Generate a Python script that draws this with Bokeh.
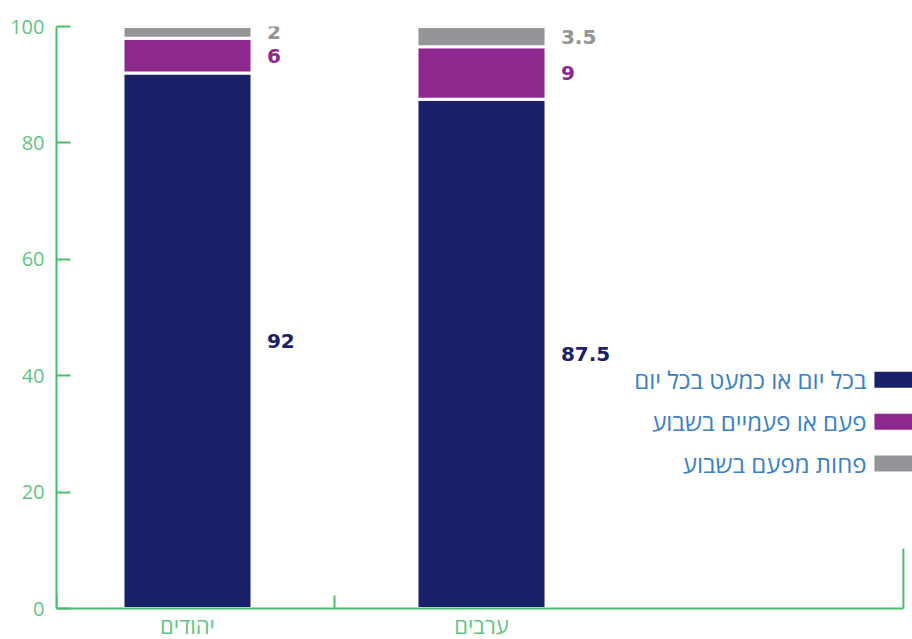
from bokeh.plotting import figure
from bokeh.models import FixedTicker, Range1d
from bokeh.core.properties import value
from bokeh.embed import file_html
from bokeh.resources import INLINE

# ---- data ----
groups = ["יהודים", "ערבים"]
series_names = ["בכל יום או כמעט בכל יום", "פעם או פעמיים בשבוע", "פחות מפעם בשבוע"]
daily = [92, 87.5]
weekly = [6, 9]
rarely = [2, 3.5]
daily_labels = ["92", "87.5"]
weekly_labels = ["6", "9"]
rarely_labels = ["2", "3.5"]
y_ticks = [0, 20, 40, 60, 80, 100]

# ---- styles ----
colors = ["#1b2169", "#8e278e", "#939598"]
axis_green = "#4cbb6c"
label_green = "#62c483"
legend_blue = "#3a80c4"

xs = list(range(len(groups)))
x_left, x_right = -0.4456, 2.466
x_end = 2.435
y_bottom = -5.326
bar_w = 0.439
lab_dx = 0.27

p = figure(width=912, height=639, output_backend="svg", toolbar_location=None,
           x_range=Range1d(x_left, x_right), y_range=Range1d(y_bottom, 100),
           min_border_left=56, min_border_right=0, min_border_top=26, min_border_bottom=0)
p.outline_line_color = None
p.xgrid.visible = False
p.ygrid.visible = False
p.xaxis.visible = False

series = [daily, weekly, rarely]
labels = [daily_labels, weekly_labels, rarely_labels]
bottom = [0.0] * len(xs)
for vals, labs, col in zip(series, labels, colors):
    top = [b + v for b, v in zip(bottom, vals)]
    p.vbar(x=xs, bottom=bottom, top=top, width=bar_w, fill_color=col,
           line_color="white", line_width=3)
    mids = [(b + t) / 2 for b, t in zip(bottom, top)]
    p.text(x=[x + lab_dx for x in xs], y=mids, text=labs, text_color=col,
           text_font=value("DejaVu Sans"), text_font_style="bold",
           text_font_size="20px", text_baseline="middle", text_align="left")
    bottom = top

# legend (right to left)
leg_y = [39.3, 32.1, 24.9]
leg_rect_x = 2.401
leg_text_x = 2.3095
p.rect(x=[leg_rect_x] * 3, y=leg_y, width=0.129, height=2.75, fill_color=colors, line_color=None)
p.text(x=[leg_text_x] * 3, y=leg_y, text=series_names, text_color=legend_blue,
       text_font=value("Open Sans"), text_font_size="24px",
       text_baseline="middle", text_align="right")

# x axis baseline, separator ticks and category labels
p.segment(x0=[x_left], y0=[0], x1=[x_end], y1=[0], line_color=axis_green, line_width=2)
tick_x = [x_left, 0.5, x_end]
tick_h = [2.23, 2.23, 10.3]
p.segment(x0=tick_x, y0=[0] * 3, x1=tick_x, y1=tick_h, line_color=axis_green, line_width=2)
p.text(x=xs, y=[-2.9] * len(xs), text=groups, text_color=label_green,
       text_font=value("Open Sans"), text_font_size="22px",
       text_align="center", text_baseline="middle")

# y axis
ya = p.yaxis[0]
ya.ticker = FixedTicker(ticks=y_ticks)
ya.bounds = (0, 100)
ya.axis_line_color = axis_green
ya.axis_line_width = 2
ya.major_tick_line_color = axis_green
ya.major_tick_line_width = 2
ya.major_tick_in = 14
ya.major_tick_out = 0
ya.minor_tick_line_color = None
ya.major_label_standoff = 12
ya.major_label_text_color = label_green
ya.major_label_text_font = "Open Sans"
ya.major_label_text_font_size = "20px"

open("out.html", "w").write(file_html(p, INLINE))
